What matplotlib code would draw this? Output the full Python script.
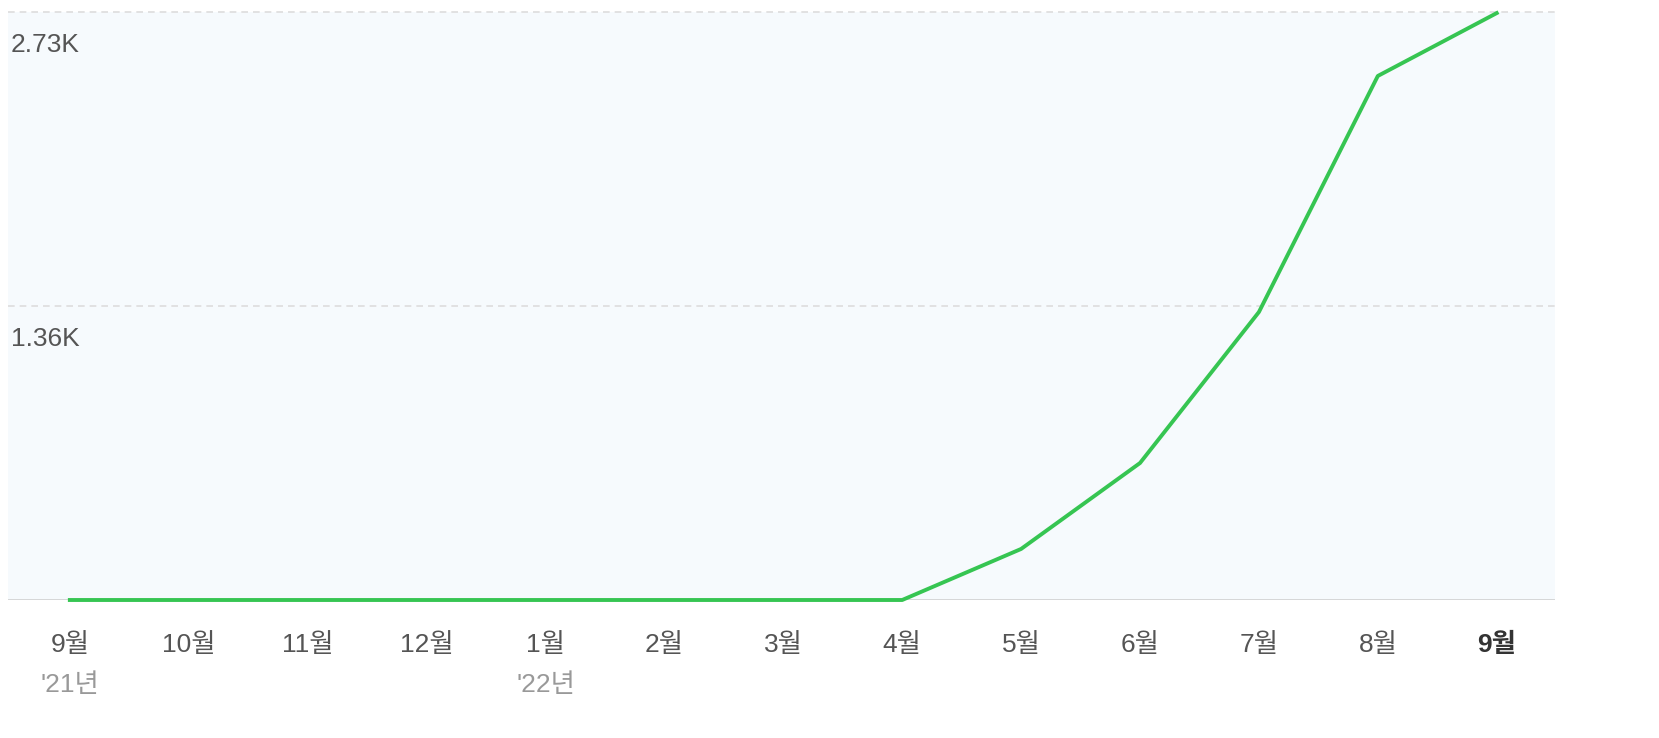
import numpy as np
import matplotlib.pyplot as plt

plt.rcParams['font.family'] = ['Liberation Sans', 'Noto Sans CJK KR', 'DejaVu Sans']

# data
months = ['9월', '10월', '11월', '12월', '1월', '2월', '3월', '4월', '5월', '6월', '7월', '8월', '9월']
years = {0: "'21년", 4: "'22년"}
values = [0, 0, 0, 0, 0, 0, 0, 0, 237, 636, 1337, 2433, 2725]
ytick_vals = [1365, 2730]
ytick_labels = ['1.36K', '2.73K']


def main():
    fig = plt.figure(figsize=(16.59, 7.38), dpi=100)
    ax = fig.add_axes([8 / 1659, 138 / 738, 1547 / 1659, 588 / 738])
    ax.set_facecolor('#f6fafd')

    x = np.arange(len(months))
    ax.set_xlim(-0.52, 12.49)
    ax.set_ylim(0, 2730)

    # dashed grid lines, labels sit just under them
    for v, lab in zip(ytick_vals, ytick_labels):
        ax.axhline(v, color='#dddddd', lw=1.2, ls=(0, (4, 3)), clip_on=False, zorder=1)
        ax.text(0.002, v - 153, lab, transform=ax.get_yaxis_transform(), ha='left', va='center',
                fontsize=19, color='#555555')
    ax.axhline(0, color='#cccccc', lw=1.8, zorder=2)

    ax.plot(x, values, color='#36c552', lw=2.8, zorder=3, clip_on=False)

    for i, m in enumerate(months):
        last = i == len(months) - 1
        ax.text(i, -0.0765, m, transform=ax.get_xaxis_transform(), ha='center', va='center',
                fontsize=19, color='#333333' if last else '#555555',
                fontweight='bold' if last else 'normal')
    for i, yr in years.items():
        ax.text(i, -0.145, yr, transform=ax.get_xaxis_transform(), ha='center', va='center',
                fontsize=19, color='#999999')

    ax.set_xticks([])
    ax.set_yticks([])
    for s in ax.spines.values():
        s.set_visible(False)

    fig.savefig('out.png', dpi=100, facecolor='white')


if __name__ == "__main__":
    main()
